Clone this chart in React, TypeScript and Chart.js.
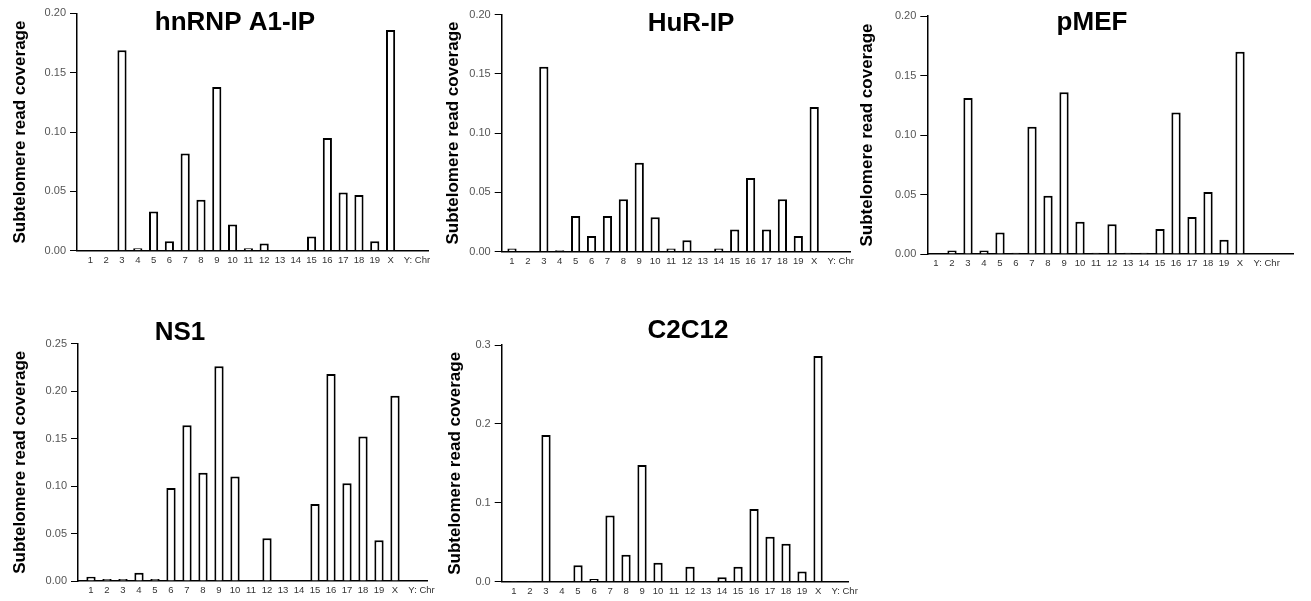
import React, { useEffect, useRef } from 'react';
import { Chart, registerables } from 'chart.js';

Chart.register(...registerables);
Chart.defaults.font.family = '"Liberation Sans", Arial, Helvetica, sans-serif';

// Chromosome categories (last tick also carries the axis name)
const CHR_LABELS = ['1', '2', '3', '4', '5', '6', '7', '8', '9', '10', '11', '12', '13', '14', '15', '16', '17', '18', '19', 'X', '        Y: Chr'];

const Y_TITLE = 'Subtelomere read coverage';

// Series values, one per chromosome (null = no bar)
const HNRNP_A1_IP = [null, null, 0.169, 0.002, 0.033, 0.008, 0.082, 0.043, 0.138, 0.022, 0.002, 0.006, null, null, 0.012, 0.095, 0.049, 0.047, 0.008, 0.186, null];
const HUR_IP = [0.0025, null, 0.156, 0.001, 0.030, 0.013, 0.030, 0.044, 0.075, 0.029, 0.0025, 0.0095, null, 0.0025, 0.0185, 0.062, 0.0185, 0.044, 0.013, 0.122, null];
const PMEF = [null, 0.003, 0.131, 0.003, 0.018, 0.001, 0.107, 0.049, 0.136, 0.027, 0.001, 0.025, 0.001, 0.001, 0.021, 0.119, 0.031, 0.052, 0.012, 0.170, null];
const NS1 = [0.0045, 0.002, 0.002, 0.0087, 0.002, 0.098, 0.164, 0.114, 0.226, 0.110, null, 0.045, null, null, 0.081, 0.218, 0.103, 0.152, 0.043, 0.195, null];
const C2C12 = [0.001, 0.001, 0.186, null, 0.021, 0.0035, 0.084, 0.034, 0.148, 0.024, null, 0.019, null, 0.0055, 0.019, 0.092, 0.057, 0.048, 0.013, 0.286, null];

// Y axis tick settings
const Y_MAX_TOP = 0.2;
const Y_MAX_NS1 = 0.25;
const Y_MAX_C2C12 = 0.3;

type Panel = {
  title: string;
  values: (number | null)[];
  yMax: number;
  yStep: number;
  dec: number;
  // layout (canvas-relative)
  cl: number; ct: number; w: number; h: number;
  left: number; top: number; right: number; bottom: number;
  xMin: number; xMax: number;
  titleX: number; titleY: number;
  yTitlePad: number;
};

const PANELS: Panel[] = [
  { title: 'hnRNP A1-IP', values: HNRNP_A1_IP, yMax: Y_MAX_TOP, yStep: 0.05, dec: 2,
    cl: 0, ct: 0, w: 440, h: 280, left: 77, top: 13.4, right: 428, bottom: 250.7,
    xMin: 0.152, xMax: 22.37, titleX: 235, titleY: 23, yTitlePad: 9.8 },
  { title: 'HuR-IP', values: HUR_IP, yMax: Y_MAX_TOP, yStep: 0.05, dec: 2,
    cl: 440, ct: 0, w: 420, h: 280, left: 61.7, top: 14.5, right: 410, bottom: 251.5,
    xMin: 0.352, xMax: 22.25, titleX: 251, titleY: 24, yTitlePad: 2.8 },
  { title: 'pMEF', values: PMEF, yMax: Y_MAX_TOP, yStep: 0.05, dec: 2,
    cl: 855, ct: 0, w: 456, h: 280, left: 72.3, top: 16, right: 438, bottom: 254,
    xMin: 0.456, xMax: 23.31, titleX: 237, titleY: 23, yTitlePad: 1.8 },
  { title: 'NS1', values: NS1, yMax: Y_MAX_NS1, yStep: 0.05, dec: 2,
    cl: 0, ct: 300, w: 440, h: 301, left: 78, top: 43.5, right: 427, bottom: 281,
    xMin: 0.1875, xMax: 22.0, titleX: 180, titleY: 33, yTitlePad: 9.8 },
  { title: 'C2C12', values: C2C12, yMax: Y_MAX_C2C12, yStep: 0.1, dec: 1,
    cl: 440, ct: 300, w: 440, h: 301, left: 61.7, top: 45, right: 408.3, bottom: 281.7,
    xMin: 0.231, xMax: 21.89, titleX: 248, titleY: 31, yTitlePad: 4.8 },
];

const panelTitlePlugin = {
  id: 'panelTitle',
  afterDraw(chart: any, _args: any, opts: any) {
    const { ctx } = chart;
    ctx.save();
    ctx.font = 'bold 26px "Liberation Sans", Arial, Helvetica, sans-serif';
    ctx.fillStyle = '#000';
    ctx.textAlign = 'center';
    ctx.textBaseline = 'middle';
    ctx.fillText(opts.text, opts.x, opts.y);
    ctx.restore();
  },
};

function PanelChart({ p }: { p: Panel }) {
  const ref = useRef<HTMLCanvasElement>(null);
  useEffect(() => {
    const canvas = ref.current;
    if (!canvas) return;
    const chart = new Chart(canvas, {
      type: 'bar',
      data: {
        datasets: [
          {
            data: p.values.map((v, i) => ({ x: i + 1, y: v })) as any,
            backgroundColor: '#ffffff',
            borderColor: '#000000',
            borderWidth: 2,
            categoryPercentage: 1,
            barPercentage: 0.58,
          },
        ],
      },
      options: {
        responsive: false,
        animation: false,
        events: [],
        layout: { padding: { top: p.top, right: p.w - p.right, left: 0, bottom: 0 } },
        plugins: {
          legend: { display: false },
          tooltip: { enabled: false },
          title: { display: false },
          panelTitle: { text: p.title, x: p.titleX, y: p.titleY },
        } as any,
        scales: {
          x: {
            type: 'linear',
            min: p.xMin,
            max: p.xMax,
            offset: false,
            afterBuildTicks: (s: any) => {
              s.ticks = CHR_LABELS.map((_, i) => ({ value: i + 1 }));
            },
            afterFit: (s: any) => {
              s.height = p.h - p.bottom;
            },
            grid: { display: false, drawTicks: false },
            border: { display: true, color: '#000', width: 1.5 },
            ticks: {
              autoSkip: false,
              maxRotation: 0,
              minRotation: 0,
              padding: 4,
              color: '#333',
              font: { size: 9.5 },
              callback: (v: any) => CHR_LABELS[Math.round(Number(v)) - 1] ?? '',
            },
          },
          y: {
            min: 0,
            max: p.yMax,
            afterFit: (s: any) => {
              s.width = p.left;
            },
            ticks: {
              stepSize: p.yStep,
              padding: 4,
              color: '#555',
              font: { size: 11 },
              callback: (v: any) => Number(v).toFixed(p.dec),
            },
            grid: { drawOnChartArea: false, drawTicks: true, tickLength: 7, color: '#000', lineWidth: 1 },
            border: { display: true, color: '#000', width: 1.5 },
            title: {
              display: true,
              text: Y_TITLE,
              color: '#000',
              font: { size: 17, weight: 'bold' },
              padding: { top: p.yTitlePad, bottom: 0 },
            },
          },
        } as any,
      },
      plugins: [panelTitlePlugin as any],
    });
    return () => chart.destroy();
  }, [p]);
  return (
    <canvas
      ref={ref}
      width={p.w}
      height={p.h}
      style={{ position: 'absolute', left: p.cl, top: p.ct, width: p.w, height: p.h }}
    />
  );
}

export default function App() {
  return (
    <div style={{ position: 'absolute', left: 0, top: 0, width: 1311, height: 601, background: '#fff', overflow: 'hidden' }}>
      {PANELS.map((p) => (
        <PanelChart key={p.title} p={p} />
      ))}
    </div>
  );
}
